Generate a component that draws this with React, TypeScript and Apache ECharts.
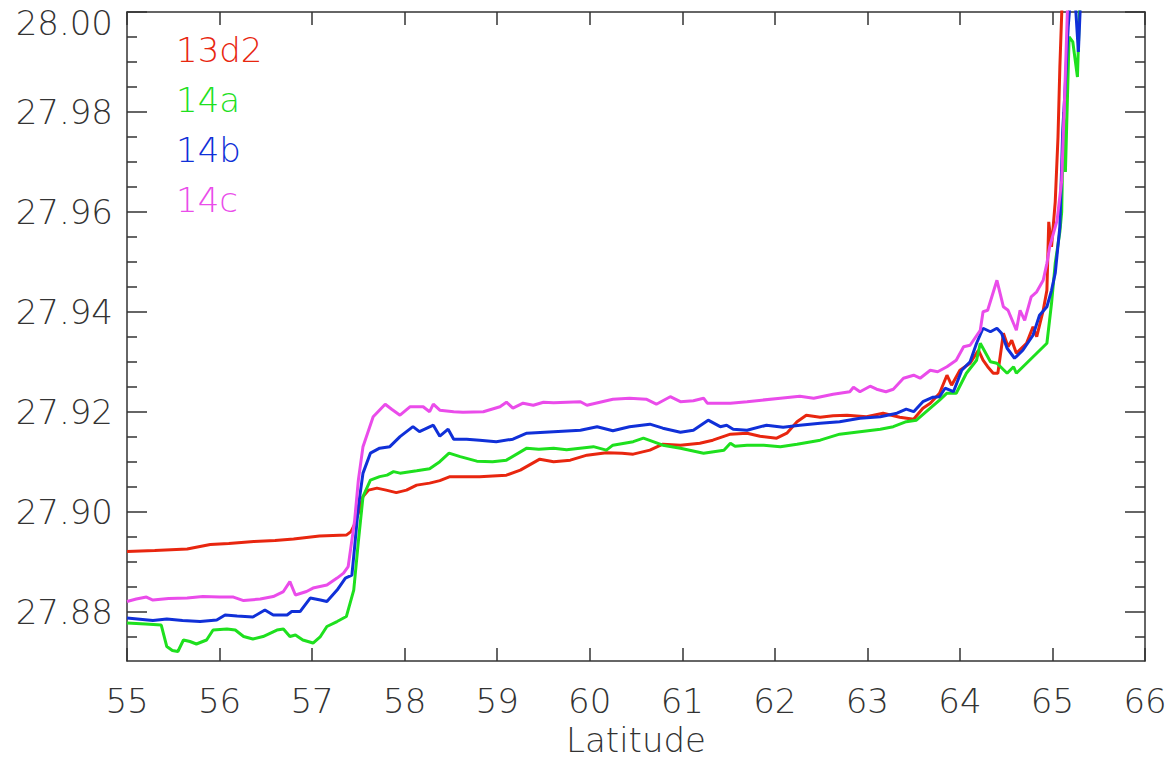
import React, { useEffect, useRef } from "react";
import * as echarts from "echarts";

// ---- data ----
const seriesNames = ["13d2", "14a", "14b", "14c"];
const seriesColors = ["#e8260f", "#1ee01e", "#1030d8", "#ea4cea"];

const redLat = [55.0, 55.3, 55.65, 55.9, 56.1, 56.37, 56.6, 56.8, 57.08, 57.37, 57.42, 57.46, 57.5, 57.55, 57.61, 57.7, 57.8, 57.91, 58.02, 58.13, 58.27, 58.38, 58.49, 58.65, 58.81, 59.0, 59.1, 59.25, 59.46, 59.61, 59.79, 59.97, 60.18, 60.35, 60.47, 60.65, 60.79, 60.98, 61.19, 61.33, 61.52, 61.7, 61.84, 62.02, 62.13, 62.24, 62.34, 62.49, 62.63, 62.78, 62.99, 63.17, 63.35, 63.5, 63.6, 63.68, 63.78, 63.86, 63.91, 64.0, 64.11, 64.2, 64.25, 64.3, 64.36, 64.41, 64.47, 64.52, 64.56, 64.61, 64.72, 64.79, 64.83, 64.9, 64.94, 64.96, 64.99, 65.03, 65.06, 65.08, 65.11, 65.12];
const redVal = [27.892, 27.8922, 27.8925, 27.8934, 27.8936, 27.894, 27.8942, 27.8945, 27.8951, 27.8953, 27.896, 27.8975, 27.8997, 27.903, 27.9043, 27.9047, 27.9043, 27.9038, 27.9043, 27.9053, 27.9057, 27.9062, 27.907, 27.907, 27.907, 27.9072, 27.9073, 27.9083, 27.9105, 27.91, 27.9103, 27.9113, 27.9118, 27.9117, 27.9115, 27.9123, 27.9135, 27.9133, 27.9137, 27.9143, 27.9155, 27.9157, 27.9151, 27.9147, 27.9157, 27.918, 27.9193, 27.9189, 27.9192, 27.9193, 27.919, 27.9197, 27.9189, 27.9185, 27.9207, 27.9217, 27.9237, 27.9273, 27.9253, 27.9283, 27.9297, 27.9323, 27.9303, 27.929, 27.9277, 27.9277, 27.9357, 27.933, 27.9343, 27.9317, 27.9337, 27.937, 27.935, 27.9403, 27.9443, 27.958, 27.953, 27.962, 27.975, 27.989, 28.005, 28.01];

const greenLat = [55.0, 55.2, 55.37, 55.43, 55.49, 55.55, 55.61, 55.68, 55.75, 55.86, 55.93, 56.08, 56.17, 56.26, 56.36, 56.47, 56.62, 56.69, 56.76, 56.82, 56.9, 57.01, 57.09, 57.16, 57.27, 57.37, 57.45, 57.5, 57.55, 57.63, 57.73, 57.81, 57.88, 57.95, 58.13, 58.27, 58.38, 58.48, 58.6, 58.78, 58.95, 59.1, 59.32, 59.45, 59.61, 59.75, 60.04, 60.18, 60.25, 60.47, 60.58, 60.79, 60.98, 61.23, 61.45, 61.52, 61.57, 61.7, 61.88, 62.06, 62.24, 62.49, 62.7, 62.92, 63.14, 63.28, 63.42, 63.53, 63.68, 63.78, 63.86, 63.96, 64.07, 64.18, 64.22, 64.33, 64.4, 64.51, 64.58, 64.61, 64.72, 64.83, 64.94, 64.99, 65.03, 65.08, 65.1, 65.12, 65.14, 65.18, 65.22, 65.27, 65.3];
const greenVal = [27.8777, 27.8775, 27.8773, 27.873, 27.8722, 27.872, 27.8743, 27.874, 27.8735, 27.8743, 27.8763, 27.8765, 27.8763, 27.875, 27.8745, 27.875, 27.8763, 27.8765, 27.875, 27.8753, 27.8743, 27.8737, 27.875, 27.877, 27.878, 27.879, 27.8843, 27.894, 27.903, 27.9063, 27.907, 27.9073, 27.908, 27.9077, 27.9082, 27.9086, 27.91, 27.9117, 27.911, 27.9101, 27.91, 27.9103, 27.9127, 27.9125, 27.9127, 27.9124, 27.913, 27.9123, 27.9133, 27.914, 27.9147, 27.9133, 27.9127, 27.9117, 27.9123, 27.9137, 27.9131, 27.9133, 27.9133, 27.913, 27.9135, 27.9143, 27.9155, 27.916, 27.9165, 27.917, 27.918, 27.9183, 27.9207, 27.9223, 27.9237, 27.9237, 27.9277, 27.9303, 27.9337, 27.93, 27.9297, 27.9277, 27.929, 27.9277, 27.9297, 27.9317, 27.9337, 27.9417, 27.9497, 27.956, 27.96, 27.98, 27.968, 27.995, 27.994, 27.987, 28.005];

const blueLat = [55.0, 55.28, 55.43, 55.6, 55.79, 55.97, 56.06, 56.19, 56.36, 56.49, 56.58, 56.73, 56.78, 56.87, 56.98, 57.09, 57.16, 57.27, 57.36, 57.43, 57.46, 57.5, 57.55, 57.63, 57.73, 57.84, 57.95, 58.09, 58.16, 58.31, 58.38, 58.47, 58.53, 58.67, 58.81, 58.99, 59.17, 59.32, 59.61, 59.9, 60.08, 60.25, 60.43, 60.65, 60.79, 60.98, 61.12, 61.28, 61.41, 61.48, 61.55, 61.7, 61.91, 62.09, 62.27, 62.49, 62.7, 62.92, 63.14, 63.32, 63.42, 63.5, 63.6, 63.71, 63.78, 63.84, 63.93, 64.02, 64.11, 64.18, 64.25, 64.33, 64.4, 64.45, 64.51, 64.59, 64.68, 64.79, 64.86, 64.94, 64.99, 65.03, 65.08, 65.11, 65.14, 65.17, 65.2, 65.25, 65.28, 65.31];
const blueVal = [27.8787, 27.8782, 27.8785, 27.8782, 27.878, 27.8783, 27.8793, 27.8791, 27.8789, 27.8803, 27.8793, 27.8793, 27.88, 27.88, 27.8827, 27.8823, 27.882, 27.8843, 27.8867, 27.8873, 27.893, 27.901, 27.9077, 27.9117, 27.9127, 27.913, 27.915, 27.917, 27.916, 27.9173, 27.9151, 27.9165, 27.9145, 27.9145, 27.9143, 27.914, 27.9145, 27.9157, 27.916, 27.9163, 27.917, 27.9162, 27.917, 27.9175, 27.9167, 27.9159, 27.9163, 27.9183, 27.917, 27.9173, 27.9165, 27.9163, 27.9173, 27.9169, 27.9173, 27.9177, 27.918, 27.9187, 27.919, 27.9197, 27.9205, 27.92, 27.922, 27.9229, 27.923, 27.9247, 27.924, 27.9283, 27.93, 27.9337, 27.9367, 27.936, 27.9367, 27.9357, 27.9327, 27.9307, 27.9323, 27.9353, 27.9393, 27.941, 27.9443, 27.9477, 27.957, 27.9757, 27.9857, 27.997, 28.004, 28.001, 27.992, 28.005];

const magentaLat = [55.0, 55.1, 55.21, 55.28, 55.45, 55.65, 55.82, 56.0, 56.15, 56.26, 56.44, 56.58, 56.69, 56.76, 56.82, 56.94, 57.01, 57.16, 57.27, 57.34, 57.39, 57.43, 57.46, 57.5, 57.55, 57.66, 57.79, 57.86, 57.95, 58.06, 58.2, 58.27, 58.31, 58.38, 58.53, 58.63, 58.85, 59.03, 59.1, 59.17, 59.28, 59.39, 59.5, 59.61, 59.9, 59.97, 60.25, 60.43, 60.61, 60.72, 60.87, 60.98, 61.12, 61.23, 61.27, 61.52, 61.7, 62.06, 62.27, 62.42, 62.63, 62.81, 62.85, 62.92, 63.03, 63.1, 63.2, 63.28, 63.39, 63.5, 63.57, 63.68, 63.76, 63.86, 63.96, 64.04, 64.11, 64.22, 64.25, 64.3, 64.4, 64.47, 64.52, 64.61, 64.65, 64.7, 64.77, 64.83, 64.9, 64.94, 64.97, 65.05, 65.1, 65.13, 65.17];
const magentaVal = [27.882, 27.8825, 27.8829, 27.8823, 27.8826, 27.8827, 27.883, 27.8829, 27.8829, 27.8822, 27.8825, 27.883, 27.884, 27.886, 27.8833, 27.884, 27.8847, 27.8853, 27.8867, 27.8877, 27.889, 27.8943, 27.8983, 27.9063, 27.913, 27.919, 27.9215, 27.9205, 27.9193, 27.921, 27.921, 27.92, 27.9215, 27.9203, 27.92, 27.9199, 27.92, 27.921, 27.9219, 27.9207, 27.9217, 27.9213, 27.9219, 27.9218, 27.922, 27.9213, 27.9225, 27.9227, 27.9225, 27.9215, 27.923, 27.922, 27.9222, 27.9227, 27.9217, 27.9217, 27.922, 27.9227, 27.9231, 27.9227, 27.9235, 27.924, 27.9249, 27.924, 27.9251, 27.9245, 27.924, 27.9245, 27.9267, 27.9273, 27.9267, 27.9283, 27.928, 27.929, 27.9303, 27.933, 27.9333, 27.9363, 27.94, 27.9403, 27.9463, 27.941, 27.9403, 27.9363, 27.9403, 27.9383, 27.943, 27.944, 27.9463, 27.9497, 27.953, 27.9583, 27.9663, 27.9823, 28.005];

const xTicks = [55, 56, 57, 58, 59, 60, 61, 62, 63, 64, 65, 66];
const yMajorTicks = [27.88, 27.9, 27.92, 27.94, 27.96, 27.98, 28.0];
const yMinorTicks = [27.875, 27.885, 27.89, 27.895, 27.905, 27.91, 27.915, 27.925, 27.93, 27.935, 27.945, 27.95, 27.955, 27.965, 27.97, 27.975, 27.985, 27.99, 27.995];

const X_MIN = 55;
const X_MAX = 66;
const Y_MIN = 27.8701;
const Y_MAX = 28.0;
const xName = "Latitude";

const FONT = "DejaVu Sans";
const AX = "#333333";

function zip(a: number[], b: number[]) {
  return a.map((v, i) => [v, b[i]]);
}

export default function App() {
  const ref = useRef<HTMLDivElement>(null);
  useEffect(() => {
    if (!ref.current) return;
    const chart = echarts.init(ref.current, undefined, { renderer: "svg" });
    const lats = [redLat, greenLat, blueLat, magentaLat];
    const vals = [redVal, greenVal, blueVal, magentaVal];
    const axisLine = { show: true, lineStyle: { color: AX, width: 1.5 } };
    const yBase = { type: "value" as const, min: Y_MIN, max: Y_MAX, splitLine: { show: false } };
    chart.setOption({
      animation: false,
      backgroundColor: "#ffffff",
      grid: { left: 127, right: 30, top: 12, bottom: 109, containLabel: false },
      legend: {
        orient: "vertical",
        left: 166,
        top: 28,
        icon: "rect",
        itemWidth: 0,
        itemHeight: 0,
        itemGap: 16,
        selectedMode: false,
        textStyle: { fontFamily: FONT, fontSize: 34, fontWeight: 200 },
        data: seriesNames.map((n, i) => ({ name: n, textStyle: { color: seriesColors[i] } })),
      },
      xAxis: [
        {
          type: "value",
          position: "bottom",
          min: X_MIN,
          max: X_MAX,
          interval: 1,
          name: xName,
          nameLocation: "middle",
          nameGap: 56,
          nameTextStyle: { fontFamily: FONT, fontSize: 34, fontWeight: 200, color: AX },
          axisLine,
          axisTick: { show: true, inside: true, length: 13, lineStyle: { color: AX, width: 1.5 }, customValues: xTicks },
          axisLabel: { customValues: xTicks, margin: 23, fontFamily: FONT, fontSize: 34, fontWeight: 200, color: AX, formatter: (v: number) => String(Math.round(v)) },
          splitLine: { show: false },
        },
        {
          type: "value",
          position: "top",
          min: X_MIN,
          max: X_MAX,
          interval: 1,
          axisLine,
          axisTick: { show: true, inside: true, length: 13, lineStyle: { color: AX, width: 1.5 }, customValues: xTicks },
          axisLabel: { show: false },
          splitLine: { show: false },
        },
      ],
      yAxis: [
        {
          ...yBase,
          position: "left",
          axisLine,
          axisTick: { show: true, inside: true, length: 20, lineStyle: { color: AX, width: 1.5 }, customValues: yMajorTicks },
          axisLabel: {
            customValues: yMajorTicks,
            margin: 14,
            fontFamily: FONT,
            fontSize: 34,
            fontWeight: 200,
            color: AX,
            formatter: (v: number) => (Math.abs(v - 28) < 1e-6 ? "{t|28.00}" : v.toFixed(2)),
            rich: { t: { fontFamily: FONT, fontSize: 34, fontWeight: 200, color: AX, padding: [22, 0, 0, 0] } },
          },
        },
        {
          ...yBase,
          position: "left",
          axisLine: { show: false },
          axisTick: { show: true, inside: true, length: 10, lineStyle: { color: AX, width: 1.5 }, customValues: yMinorTicks },
          axisLabel: { show: false },
        },
        {
          ...yBase,
          position: "right",
          axisLine,
          axisTick: { show: true, inside: true, length: 20, lineStyle: { color: AX, width: 1.5 }, customValues: yMajorTicks },
          axisLabel: { show: false },
        },
        {
          ...yBase,
          position: "right",
          axisLine: { show: false },
          axisTick: { show: true, inside: true, length: 10, lineStyle: { color: AX, width: 1.5 }, customValues: yMinorTicks },
          axisLabel: { show: false },
        },
      ],
      series: seriesNames.map((n, i) => ({
        name: n,
        type: "line",
        xAxisIndex: 0,
        yAxisIndex: 0,
        data: zip(lats[i], vals[i]),
        showSymbol: false,
        symbol: "none",
        clip: true,
        lineStyle: { color: seriesColors[i], width: 3 },
        itemStyle: { color: seriesColors[i] },
        emphasis: { disabled: true },
      })),
    });
    return () => chart.dispose();
  }, []);
  return <div ref={ref} style={{ position: "fixed", left: 0, top: 0, width: 1175, height: 770, background: "#fff" }} />;
}
